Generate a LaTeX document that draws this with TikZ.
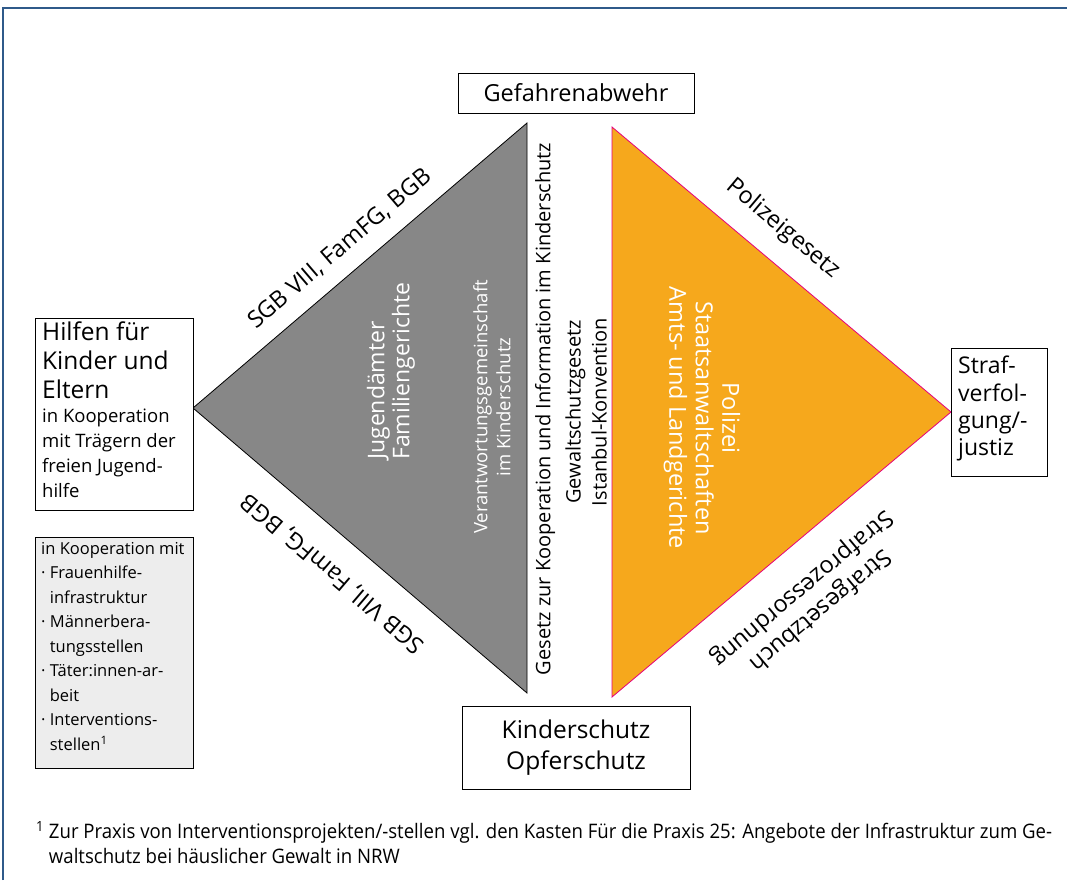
\documentclass[tikz,border=0pt]{standalone}
\usepackage{fontspec}
\setmainfont{Open Sans}
\newfontfamily\condfont[FakeStretch=0.93]{Open Sans}
\definecolor{frameblue}{HTML}{2F5A8A}
\definecolor{triGray}{HTML}{878787}
\definecolor{triOrange}{HTML}{F6A81C}
\definecolor{triMagenta}{HTML}{E5007D}
\definecolor{boxGray}{HTML}{EDEDED}
\newcommand{\fsz}[2]{\fontsize{#1}{#2}\selectfont}
\tikzset{
  box/.style={draw=black, line width=0.8pt, fill=white, inner sep=0pt},
  edgelabel/.style={font=\fsz{23.5}{28}, inner sep=0pt},
  lawtext/.style={font=\fsz{20}{26}, inner sep=0pt, rotate=90},
  whitetext/.style={text=white, inner sep=0pt},
}
\begin{document}
\begin{tikzpicture}[x=1pt,y=-1pt]
\useasboundingbox (0,0) rectangle (1067,880);
\fill[white] (0,0) rectangle (1067,880);
\draw[frameblue, line width=1.8pt] (3,880) -- (3,8) -- (1067,8);

% triangles
\coordinate (gL) at (193,408);
\coordinate (gT) at (527,123);
\coordinate (gB) at (527,693);
\coordinate (oT) at (612,127);
\coordinate (oB) at (612,697);
\coordinate (oR) at (951,412);
\filldraw[fill=triGray, draw=black, line width=0.8pt] (gL) -- (gT) -- (gB) -- cycle;
\filldraw[fill=triOrange, draw=triMagenta, line width=0.8pt] (oT) -- (oR) -- (oB) -- cycle;

% boxes
\node[box, minimum width=236pt, minimum height=40pt, font=\fsz{23.5}{28}] (gef) at (576,93) {Gefahrenabwehr};
\node[box, minimum width=228pt, minimum height=83pt, font=\fsz{24.5}{31}, align=center] (kind) at (576,747.5) {Kinderschutz\\Opferschutz};
\node[box, minimum width=96pt, minimum height=128pt] (straf) at (999,412) {};
\node[anchor=north west, inner sep=0pt, align=left, font=\fsz{23}{27.3}] (straft) at (958,356) {Straf-\\verfol-\\gung/-\\justiz};
\node[box, minimum width=158pt, minimum height=192pt] (hilf) at (114,414) {};
\node[anchor=north west, inner sep=0pt, align=left, font=\fsz{24.5}{29}] (hilft1) at (42,322) {Hilfen für\\Kinder und\\Eltern};
\node[anchor=north west, inner sep=0pt, align=left, font=\fsz{18.5}{24.8}] (hilft2) at (42,409) {in Kooperation\\mit Trägern der\\freien Jugend-\\hilfe};
\node[box, fill=boxGray, minimum width=158pt, minimum height=231pt] (koop) at (114,652.5) {};
\node[anchor=north west, inner sep=0pt, align=left, font=\fsz{16.5}{24.5}] (koopt) at (41,542) {in Kooperation mit\\\textperiodcentered\ Frauenhilfe-\\\hphantom{\textperiodcentered\ }infrastruktur\\\textperiodcentered\ Männerbera-\\\hphantom{\textperiodcentered\ }tungsstellen\\\textperiodcentered\ Täter:innen-ar-\\\hphantom{\textperiodcentered\ }beit\\\textperiodcentered\ Interventions-\\\hphantom{\textperiodcentered\ }stellen\textsuperscript{1}};

% edge labels
\node[edgelabel, rotate=40.5] (l1) at (340,249) {SGB VIII, FamFG, BGB};
\node[edgelabel, rotate=139.5] (l2) at (333,573) {SGB VIII, FamFG, BGB};
\node[edgelabel, rotate=-40] (l3) at (783,229) {Polizeigesetz};
\node[edgelabel, rotate=-140, align=center] (l4) at (811,599) {Strafgesetzbuch\\Strafprozessordnung};

% law texts between triangles
\node[lawtext] (law1) at (545,409) {Gesetz zur Kooperation und Information im Kinderschutz};
\node[lawtext, align=center] (law2) at (586,412) {Gewaltschutzgesetz\\Istanbul-Konvention};

% triangle contents
\node[whitetext, rotate=90, anchor=west, align=left, font=\fsz{23}{25}] (jug) at (391,460) {Jugendämter\\Familiengerichte};
\node[whitetext, rotate=90, align=center, font=\fsz{18.5}{23}] (ver) at (492,407) {Verantwortungsgemeinschaft\\im Kinderschutz};
\node[whitetext, rotate=-90, align=center, font=\fsz{23.5}{26.5}] (pol) at (702,418) {Polizei\\Staatsanwaltschaften\\Amts- und Landgerichte};

% footnote
\node[anchor=north west, inner sep=0pt, align=left, font=\condfont\fsz{20}{25}] (fn) at (36,821) {\textsuperscript{1} Zur Praxis von Interventionsprojekten/-stellen vgl. den Kasten Für die Praxis 25: Angebote der Infrastruktur zum Ge-\\\hphantom{\textsuperscript{1} }waltschutz bei häuslicher Gewalt in NRW};
\end{tikzpicture}
\end{document}
